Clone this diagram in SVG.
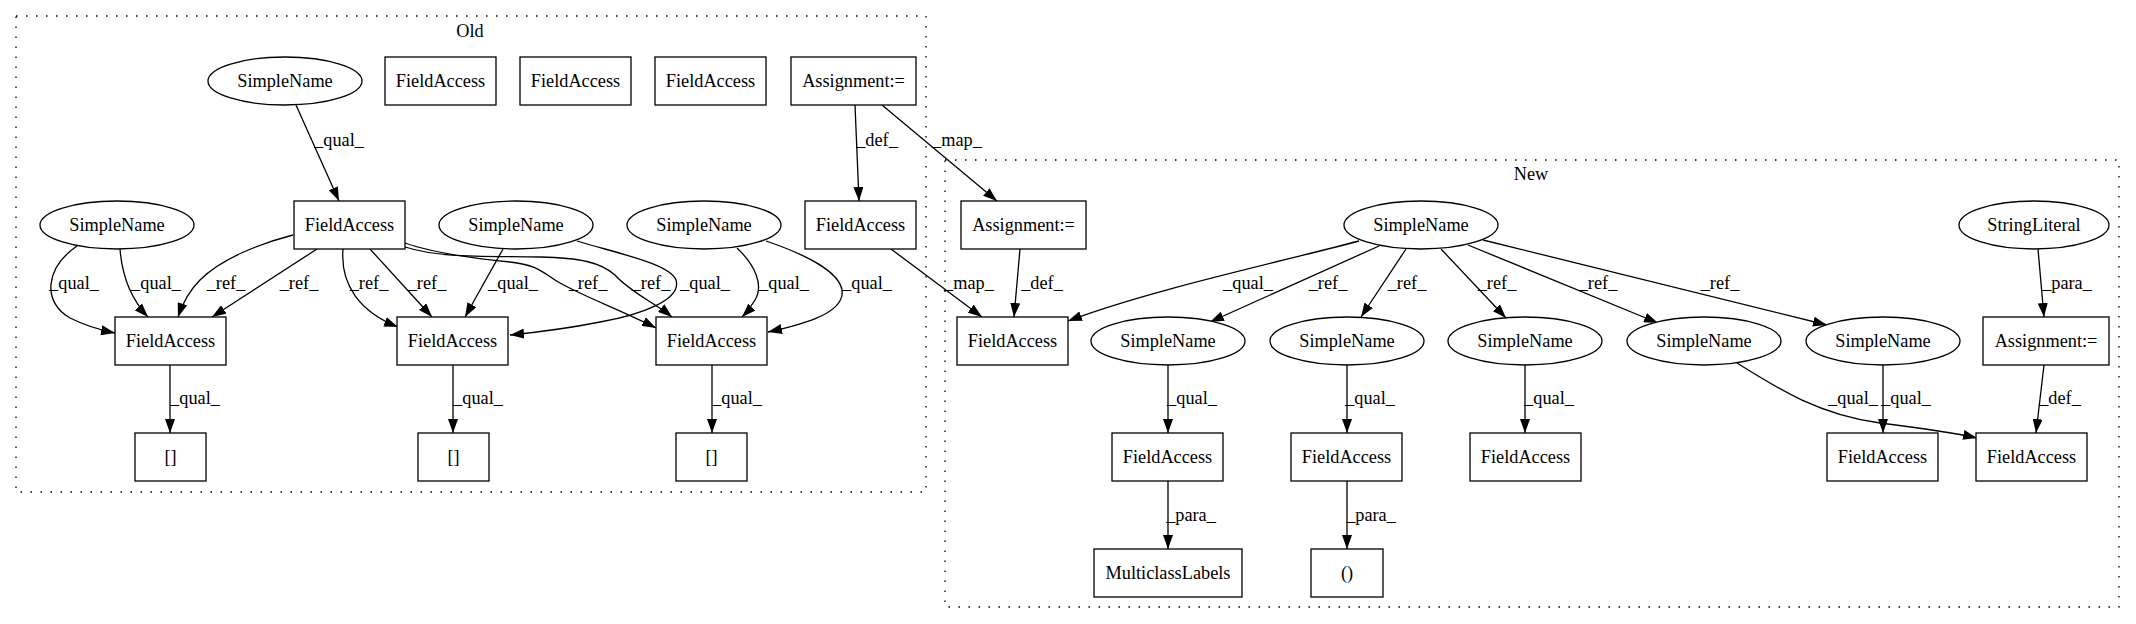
<svg xmlns="http://www.w3.org/2000/svg" width="2136" height="624" viewBox="0 0 2136 624" font-family="'Liberation Serif', 'Times New Roman', 'DejaVu Serif', serif">
<style>
.bg{fill:#fff}
.cl{fill:none;stroke:#000;stroke-width:1.3;stroke-dasharray:1.5,8.5}
.n{fill:#fff;stroke:#000;stroke-width:1.3}
.t{font-family:'Liberation Serif','Times New Roman','DejaVu Serif',serif;font-size:18.3px;text-anchor:middle;fill:#000}
.e{fill:none;stroke:#000;stroke-width:1.3;marker-end:url(#ah)}
</style>
<defs>
<marker id="ah" markerUnits="userSpaceOnUse" markerWidth="14" markerHeight="10" viewBox="0 0 14 10" refX="14" refY="5" orient="auto">
<path d="M0,0 L14,5 L0,10 z" fill="#000"/>
</marker>
</defs>
<rect class="bg" x="0" y="0" width="2136" height="624"/>
<g id="clusters">
<g id="cluster_old"><rect class="cl" x="16" y="16" width="910" height="476"/><text class="t" x="470" y="37">Old</text></g>
<g id="cluster_new"><rect class="cl" x="945" y="160" width="1174" height="447"/><text class="t" x="1531" y="180">New</text></g>
</g>
<g id="edges">
<path class="e" d="M296,105 L339,201"/>
<text class="t" x="339" y="146">_qual_</text>
<path class="e" d="M855,105 L859,201"/>
<text class="t" x="877" y="146">_def_</text>
<path class="e" d="M882,105 L997,201"/>
<text class="t" x="957" y="146">_map_</text>
<path class="e" d="M891,249 L982,317"/>
<text class="t" x="969" y="289">_map_</text>
<path class="e" d="M77,246 C45,268 42,302 70,318 C84,325 100,330 115,333"/>
<text class="t" x="74" y="289">_qual_</text>
<path class="e" d="M120,249 C122,275 130,298 148,317"/>
<text class="t" x="156" y="289">_qual_</text>
<path class="e" d="M293,235 C262,243 222,258 200,280 C188,292 182,305 178,317"/>
<text class="t" x="226" y="289">_ref_</text>
<path class="e" d="M317,249 L212,317"/>
<text class="t" x="299" y="289">_ref_</text>
<path class="e" d="M343,249 C340,285 360,312 398,327"/>
<text class="t" x="369" y="289">_ref_</text>
<path class="e" d="M370,249 L432,317"/>
<text class="t" x="427" y="289">_ref_</text>
<path class="e" d="M503,249 L465,317"/>
<text class="t" x="513" y="289">_qual_</text>
<path class="e" d="M577,241 C620,254 670,264 676,280 C682,300 640,315 600,322 C570,328 540,332 510,335"/>
<text class="t" x="705" y="289">_qual_</text>
<path class="e" d="M737,248 C755,265 764,285 755,300 C751,307 747,312 742,317"/>
<text class="t" x="784" y="289">_qual_</text>
<path class="e" d="M766,241 C810,256 845,275 842,295 C839,315 800,325 768,332"/>
<text class="t" x="867" y="289">_qual_</text>
<path class="e" d="M405,243 C430,252 470,258 510,262 C540,265 545,275 560,283 C585,297 625,312 656,328"/>
<text class="t" x="588" y="289">_ref_</text>
<path class="e" d="M405,247 C440,258 480,256 540,257 C580,258 600,262 615,275 C630,292 655,303 672,317"/>
<text class="t" x="651" y="289">_ref_</text>
<path class="e" d="M170,365 L170,433"/>
<text class="t" x="195" y="404">_qual_</text>
<path class="e" d="M453,365 L453,433"/>
<text class="t" x="478" y="404">_qual_</text>
<path class="e" d="M712,365 L712,433"/>
<text class="t" x="737" y="404">_qual_</text>
<path class="e" d="M1020,249 L1014,317"/>
<text class="t" x="1042" y="289">_def_</text>
<path class="e" d="M1359,241 C1280,262 1150,290 1068,321"/>
<text class="t" x="1248" y="289">_qual_</text>
<path class="e" d="M1379,246 L1210,322"/>
<text class="t" x="1328" y="289">_ref_</text>
<path class="e" d="M1406,249 L1361,317"/>
<text class="t" x="1407" y="289">_ref_</text>
<path class="e" d="M1441,249 L1506,318"/>
<text class="t" x="1497" y="289">_ref_</text>
<path class="e" d="M1468,245 L1658,323"/>
<text class="t" x="1598" y="289">_ref_</text>
<path class="e" d="M1483,240 L1827,325"/>
<text class="t" x="1720" y="289">_ref_</text>
<path class="e" d="M2038,249 L2044,317"/>
<text class="t" x="2067" y="289">_para_</text>
<path class="e" d="M2044,365 L2036,433"/>
<text class="t" x="2060" y="404">_def_</text>
<path class="e" d="M1883,365 L1883,433"/>
<text class="t" x="1906" y="404">_qual_</text>
<path class="e" d="M1737,363 C1780,390 1820,415 1880,423 C1920,428 1950,432 1977,438"/>
<text class="t" x="1853" y="404">_qual_</text>
<path class="e" d="M1168,365 L1168,433"/>
<text class="t" x="1192" y="404">_qual_</text>
<path class="e" d="M1347,365 L1347,433"/>
<text class="t" x="1370" y="404">_qual_</text>
<path class="e" d="M1525,365 L1525,433"/>
<text class="t" x="1549" y="404">_qual_</text>
<path class="e" d="M1168,481 L1168,549"/>
<text class="t" x="1191" y="521">_para_</text>
<path class="e" d="M1347,481 L1347,549"/>
<text class="t" x="1371" y="521">_para_</text>
</g>
<g id="o_sn1"><ellipse class="n" cx="285" cy="81" rx="77" ry="24"/><text class="t" x="285" y="87">SimpleName</text></g>
<g id="o_fa1"><rect class="n" x="385" y="57" width="111" height="48"/><text class="t" x="440.5" y="87">FieldAccess</text></g>
<g id="o_fa2"><rect class="n" x="520" y="57" width="111" height="48"/><text class="t" x="575.5" y="87">FieldAccess</text></g>
<g id="o_fa3"><rect class="n" x="655" y="57" width="111" height="48"/><text class="t" x="710.5" y="87">FieldAccess</text></g>
<g id="o_asg"><rect class="n" x="791" y="57" width="125" height="48"/><text class="t" x="853.5" y="87">Assignment:=</text></g>
<g id="o_sn2"><ellipse class="n" cx="117" cy="225" rx="77" ry="24"/><text class="t" x="117" y="231">SimpleName</text></g>
<g id="o_fa4"><rect class="n" x="294" y="201" width="111" height="48"/><text class="t" x="349.5" y="231">FieldAccess</text></g>
<g id="o_sn3"><ellipse class="n" cx="516" cy="225" rx="77" ry="24"/><text class="t" x="516" y="231">SimpleName</text></g>
<g id="o_sn4"><ellipse class="n" cx="704" cy="225" rx="77" ry="24"/><text class="t" x="704" y="231">SimpleName</text></g>
<g id="o_fa5"><rect class="n" x="805" y="201" width="111" height="48"/><text class="t" x="860.5" y="231">FieldAccess</text></g>
<g id="o_fa6"><rect class="n" x="115" y="317" width="111" height="48"/><text class="t" x="170.5" y="347">FieldAccess</text></g>
<g id="o_fa7"><rect class="n" x="397" y="317" width="111" height="48"/><text class="t" x="452.5" y="347">FieldAccess</text></g>
<g id="o_fa8"><rect class="n" x="656" y="317" width="111" height="48"/><text class="t" x="711.5" y="347">FieldAccess</text></g>
<g id="o_b1"><rect class="n" x="135" y="433" width="71" height="48"/><text class="t" x="170.5" y="463">[]</text></g>
<g id="o_b2"><rect class="n" x="418" y="433" width="71" height="48"/><text class="t" x="453.5" y="463">[]</text></g>
<g id="o_b3"><rect class="n" x="676" y="433" width="71" height="48"/><text class="t" x="711.5" y="463">[]</text></g>
<g id="n_asg1"><rect class="n" x="961" y="201" width="125" height="48"/><text class="t" x="1023.5" y="231">Assignment:=</text></g>
<g id="n_sn0"><ellipse class="n" cx="1421" cy="225" rx="77" ry="24"/><text class="t" x="1421" y="231">SimpleName</text></g>
<g id="n_str"><ellipse class="n" cx="2034" cy="225" rx="75" ry="24"/><text class="t" x="2034" y="231">StringLiteral</text></g>
<g id="n_fa1"><rect class="n" x="957" y="317" width="111" height="48"/><text class="t" x="1012.5" y="347">FieldAccess</text></g>
<g id="n_sn1"><ellipse class="n" cx="1168" cy="341" rx="77" ry="24"/><text class="t" x="1168" y="347">SimpleName</text></g>
<g id="n_sn2"><ellipse class="n" cx="1347" cy="341" rx="77" ry="24"/><text class="t" x="1347" y="347">SimpleName</text></g>
<g id="n_sn3"><ellipse class="n" cx="1525" cy="341" rx="77" ry="24"/><text class="t" x="1525" y="347">SimpleName</text></g>
<g id="n_sn4"><ellipse class="n" cx="1704" cy="341" rx="77" ry="24"/><text class="t" x="1704" y="347">SimpleName</text></g>
<g id="n_sn5"><ellipse class="n" cx="1883" cy="341" rx="77" ry="24"/><text class="t" x="1883" y="347">SimpleName</text></g>
<g id="n_asg2"><rect class="n" x="1983" y="317" width="126" height="48"/><text class="t" x="2046" y="347">Assignment:=</text></g>
<g id="n_fa2"><rect class="n" x="1112" y="433" width="111" height="48"/><text class="t" x="1167.5" y="463">FieldAccess</text></g>
<g id="n_fa3"><rect class="n" x="1291" y="433" width="111" height="48"/><text class="t" x="1346.5" y="463">FieldAccess</text></g>
<g id="n_fa4"><rect class="n" x="1470" y="433" width="111" height="48"/><text class="t" x="1525.5" y="463">FieldAccess</text></g>
<g id="n_fa5"><rect class="n" x="1827" y="433" width="111" height="48"/><text class="t" x="1882.5" y="463">FieldAccess</text></g>
<g id="n_fa6"><rect class="n" x="1976" y="433" width="111" height="48"/><text class="t" x="2031.5" y="463">FieldAccess</text></g>
<g id="n_mc"><rect class="n" x="1094" y="549" width="148" height="48"/><text class="t" x="1168" y="579">MulticlassLabels</text></g>
<g id="n_par"><rect class="n" x="1311" y="549" width="72" height="48"/><text class="t" x="1347" y="579">()</text></g>
</svg>
